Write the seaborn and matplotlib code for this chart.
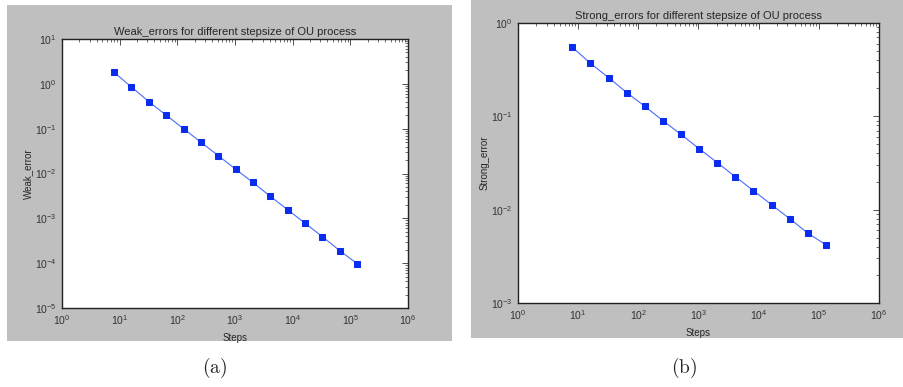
import numpy as np
import pandas as pd
import matplotlib
matplotlib.use("Agg")
import matplotlib.pyplot as plt
from matplotlib.patches import Rectangle
import seaborn as sns

# data
steps = [8, 16, 32, 64, 128, 256, 512, 1024, 2048, 4096, 8192, 16384, 32768, 65536, 131072]
weak_err = [1.8, 0.85, 0.40, 0.20, 0.10, 0.050, 0.025, 0.0125, 0.0063, 0.0031,
            0.00155, 0.00078, 0.00039, 0.00019, 0.0000975]
strong_err = [0.55, 0.37, 0.26, 0.18, 0.128, 0.090, 0.064, 0.045, 0.032, 0.0225,
              0.016, 0.0113, 0.0080, 0.0056, 0.0042]
titles = ["Weak_errors for different stepsize of OU process",
          "Strong_errors for different stepsize of OU process"]
ylabels = ["Weak_error", "Strong_error"]
captions = ["(a)", "(b)"]
ylims = [(1e-5, 1e1), (1e-3, 1e0)]

sns.set_style("white")
plt.rcParams['font.family'] = ['Liberation Sans', 'DejaVu Sans']
plt.rcParams['mathtext.fontset'] = 'custom'
plt.rcParams['mathtext.rm'] = 'Liberation Sans'

W, H = 904, 387
fig = plt.figure(figsize=(W / 100, H / 100), dpi=100)
fig.patch.set_facecolor("white")

# gray panel backgrounds (pixels: x0, y0, x1, y1 from top-left)
panels = [(7, 5, 452, 341), (471, 0, 904, 338)]
axboxes = [(62, 39, 408, 308), (518, 23, 879, 303)]
cap_x = [215, 684]

df = pd.DataFrame({"steps": steps, "weak": weak_err, "strong": strong_err})
cols = ["weak", "strong"]

for i in range(2):
    x0, y0, x1, y1 = panels[i]
    fig.patches.append(Rectangle((x0 / W, 1 - y1 / H), (x1 - x0) / W, (y1 - y0) / H,
                                 transform=fig.transFigure, facecolor="#bfbfbf",
                                 edgecolor="none", zorder=-5))
    a0, b0, a1, b1 = axboxes[i]
    ax = fig.add_axes([a0 / W, 1 - b1 / H, (a1 - a0) / W, (b1 - b0) / H])
    ax.set_facecolor("white")
    sns.lineplot(data=df, x="steps", y=cols[i], ax=ax, color="#4a6bff", linewidth=0.8,
                 marker="s", markersize=5, markerfacecolor="#0a2cf0",
                 markeredgecolor="#0a2cf0")
    ax.set_xscale("log")
    ax.set_yscale("log")
    ax.set_xlim(1e0, 1e6)
    ax.set_ylim(*ylims[i])
    ax.set_title(titles[i], fontsize=8, pad=3)
    ax.set_xlabel("Steps", fontsize=7, labelpad=4)
    ax.set_ylabel(ylabels[i], fontsize=7, labelpad=1)
    ax.tick_params(which="both", direction="in", top=True, right=True,
                   labelsize=7.5, colors="#333333", pad=4)
    ax.tick_params(which="major", length=4, width=0.6)
    ax.tick_params(which="minor", length=2, width=0.5)
    for s in ax.spines.values():
        s.set_visible(True)
        s.set_color("#222222")
        s.set_linewidth(1.0)
    fig.text(cap_x[i] / W, 1 - 368 / H, r"$\mathrm{%s}$" % captions[i], ha="center",
             va="center", fontsize=14, math_fontfamily="cm")

fig.savefig("out.png", dpi=100, facecolor=fig.get_facecolor())
